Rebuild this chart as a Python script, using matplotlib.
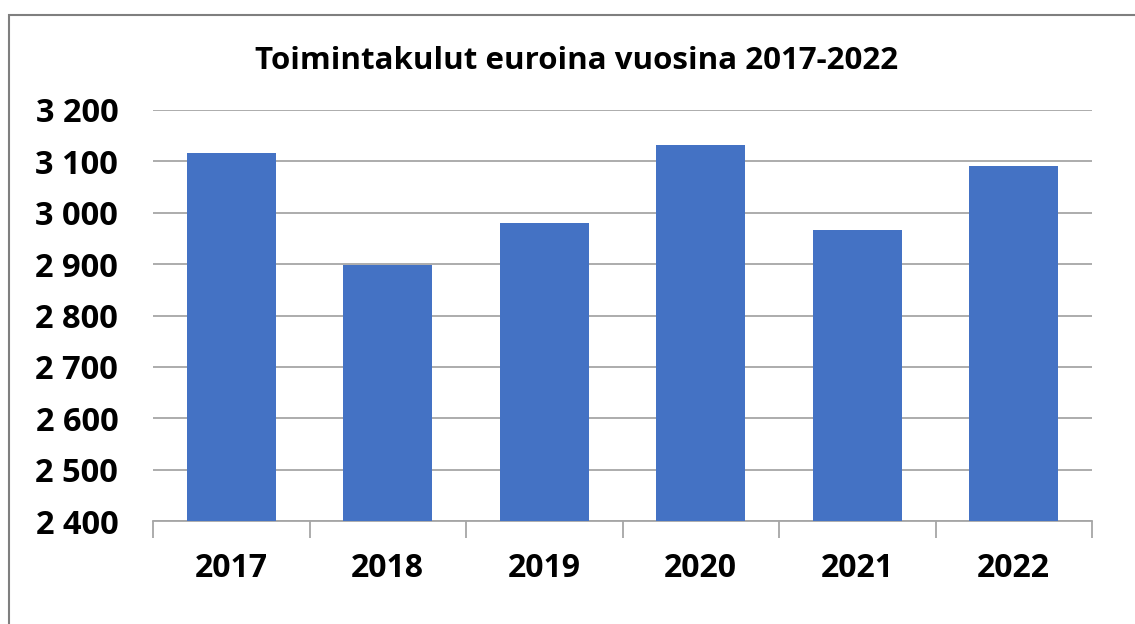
import matplotlib
matplotlib.use("Agg")
import matplotlib.pyplot as plt
from matplotlib.patches import Rectangle

years = ["2017", "2018", "2019", "2020", "2021", "2022"]
costs = [3116, 2898, 2980, 3131, 2967, 3091]
yticks = [2400, 2500, 2600, 2700, 2800, 2900, 3000, 3100, 3200]

plt.rcParams['font.family'] = ['Open Sans', 'DejaVu Sans']

fig = plt.figure(figsize=(11.35, 6.24), dpi=100)
ax = fig.add_axes([153/1135, 1 - 521/624, (1092 - 153)/1135, (521 - 110)/624])

x = range(len(years))
ax.bar(x, [c - 2400 for c in costs], bottom=2400, width=0.57, color="#4472C4", zorder=3)

ax.set_xlim(-0.5, len(years) - 0.5)
ax.set_ylim(2400, 3200)
ax.set_yticks(yticks)
ax.set_yticklabels([f"{v:,}".replace(",", " ") for v in yticks])
ax.yaxis.grid(True, color="#a6a6a6", linewidth=1.3, zorder=0)
ax.tick_params(axis="y", length=0, pad=25, labelsize=23.5)
for lab in ax.get_yticklabels():
    lab.set_fontweight("bold")

ax.set_xticks(x)
ax.set_xticklabels(years, fontsize=23, fontweight="bold")
ax.tick_params(axis="x", length=0, pad=22)
ax.set_xticks([i - 0.5 for i in range(len(years) + 1)], minor=True)
ax.tick_params(axis="x", which="minor", length=12, color="#a6a6a6", width=1.3)

for s in ["top", "right", "left"]:
    ax.spines[s].set_visible(False)
ax.spines["bottom"].set_color("#a6a6a6")
ax.spines["bottom"].set_linewidth(1.3)

fig.text(577/1135, 1 - 61/624, "Toimintakulut euroina vuosina 2017-2022",
         ha="center", va="center", fontsize=22.5, fontweight="bold")

fig.patches.append(Rectangle((9/1135, -0.1), 1.2, 1 - 15/624 + 0.1, transform=fig.transFigure,
                             fill=False, edgecolor="#7f7f7f", linewidth=1.5))

fig.savefig("out.png", dpi=100)
